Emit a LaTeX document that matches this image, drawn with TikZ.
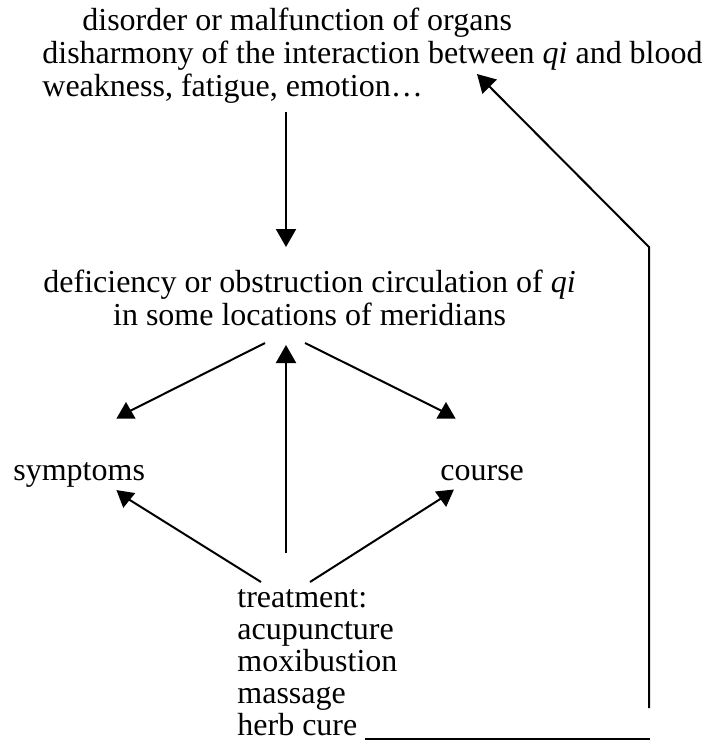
\documentclass[tikz,border=0pt]{standalone}
\usepackage{fontspec}
\setmainfont{Liberation Serif}
\usetikzlibrary{arrows.meta,shapes.geometric}

\tikzset{
  txt/.style={inner sep=0pt, anchor=north west, align=left,
    font=\fontsize{16}{16.5}\selectfont},
  arr/.style={-{Triangle[length=9pt,width=10pt]}, line width=1pt},
  ln/.style={line width=1pt},
  head/.style={regular polygon, regular polygon sides=3, fill,
    inner sep=0pt, outer sep=0pt, minimum size=11pt},
}

\begin{document}
\begin{tikzpicture}[x=0.5pt,y=0.5pt,yscale=-1]
\useasboundingbox (0,0) rectangle (709,745);

% text blocks
\node[txt] (cause) at (42,8) {\hspace*{20pt}disorder or malfunction of organs\\disharmony of the interaction between \textit{qi} and blood\\weakness, fatigue, emotion\ldots};
\node[txt, align=center] (qi) at (43,270) {deficiency or obstruction circulation of \textit{qi}\\in some locations of meridians};
\node[txt, anchor=base west] (sym) at (13,480) {symptoms};
\node[txt, anchor=base west] (course) at (440,480) {course};
\node[txt, font=\fontsize{16}{16}\selectfont] (treat) at (237,589) {treatment:\\acupuncture\\moxibustion\\massage\\herb cure \rule[-2.5pt]{142.5pt}{1pt}};

% arrow ends
\coordinate (c-down) at (286,112);
\coordinate (q-top) at (286,247);
\coordinate (q-l) at (265,343);
\coordinate (q-r) at (305,343);
\coordinate (q-mid) at (286,345);
\coordinate (t-l) at (261,582);
\coordinate (t-m) at (286,553);
\coordinate (t-r) at (310,582);
\coordinate (fb-start) at (649,708);
\coordinate (fb-bend) at (649,247);
\coordinate (fb-end) at (477,74);

% heads that keep their own turn
\node[head] (h-s-up) at (126,413) {};
\node[head] (h-c-up) at (446,413) {};
\node[head, rotate=171] (h-s-low) at (125,497) {};
\node[head, rotate=186] (h-c-low) at (445,496) {};

% connectors
\draw[arr] (c-down) -- (q-top);
\draw[ln] (q-l) -- (h-s-up.center);
\draw[ln] (q-r) -- (h-c-up.center);
\draw[arr] (t-m) -- (q-mid);
\draw[ln] (t-l) -- (h-s-low.center);
\draw[ln] (t-r) -- (h-c-low.center);
\draw[arr] (fb-start) -- (fb-bend) -- (fb-end);

\end{tikzpicture}
\end{document}
